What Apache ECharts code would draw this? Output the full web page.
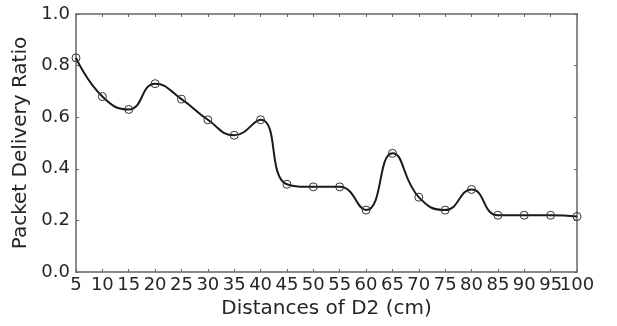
<!DOCTYPE html>
<html>
<head>
<meta charset="utf-8">
<script src="https://cdn.jsdelivr.net/npm/echarts@6/dist/echarts.min.js"></script>
<style>
  html, body { margin: 0; padding: 0; background: #fff; }
  #chart { width: 617px; height: 326px; }
</style>
</head>
<body>
<div id="chart"></div>
<script>
// distances of D2 (cm) and the measured packet delivery ratio
const distances = ['5', '10', '15', '20', '25', '30', '35', '40', '45', '50', '55', '60', '65', '70', '75', '80', '85', '90', '95', '100']
const pdr = [0.83, 0.68, 0.63, 0.73, 0.67, 0.59, 0.53, 0.59, 0.34, 0.33, 0.33, 0.24, 0.46, 0.29, 0.24, 0.32, 0.22, 0.22, 0.22, 0.215]

const FONT = 'DejaVu Sans'
const AXIS = '#666', TEXT = '#262626'

const chart = echarts.init(document.getElementById('chart'), null, { renderer: 'canvas' })

const frameAxis = {
  axisLine: { show: true, onZero: false, lineStyle: { color: AXIS, width: 1.5 } },
  axisTick: { show: true, inside: true, length: 3, interval: 0, lineStyle: { color: AXIS, width: 1 } },
  splitLine: { show: false },
}

chart.setOption({
  animation: false,
  backgroundColor: '#fff',
  grid: { left: 76, right: 40, top: 14, bottom: 54 },
  xAxis: [
    {
      ...frameAxis,
      type: 'category', data: distances, boundaryGap: false, position: 'bottom',
      name: 'Distances of D2 (cm)', nameLocation: 'middle', nameGap: 27,
      nameTextStyle: { color: TEXT, fontFamily: FONT, fontSize: 20 },
      axisLabel: { color: TEXT, fontFamily: FONT, fontSize: 18, margin: 4, interval: 0 },
    },
    {
      ...frameAxis,
      type: 'category', data: distances, boundaryGap: false, position: 'top',
      axisLabel: { show: false },
    },
  ],
  yAxis: [
    {
      ...frameAxis,
      type: 'value', min: 0, max: 1, interval: 0.2, position: 'left',
      name: 'Packet Delivery Ratio', nameLocation: 'middle', nameGap: 42,
      nameTextStyle: { color: TEXT, fontFamily: FONT, fontSize: 20 },
      axisLabel: {
        color: TEXT, fontFamily: FONT, fontSize: 18, margin: 6,
        showMinLabel: true, showMaxLabel: true, formatter: v => v.toFixed(1),
      },
    },
    {
      ...frameAxis,
      type: 'value', min: 0, max: 1, interval: 0.2, position: 'right',
      axisLabel: { show: false },
    },
  ],
  series: [
    {
      type: 'line',
      data: pdr,
      smooth: 0.5,
      symbol: 'circle', symbolSize: 8,
      lineStyle: { color: '#1a1a1a', width: 2 },
      itemStyle: { color: 'rgba(0,0,0,0)', borderColor: '#333', borderWidth: 1 },
      emphasis: { disabled: true },
    },
  ],
  tooltip: { show: false },
})
</script>
</body>
</html>
